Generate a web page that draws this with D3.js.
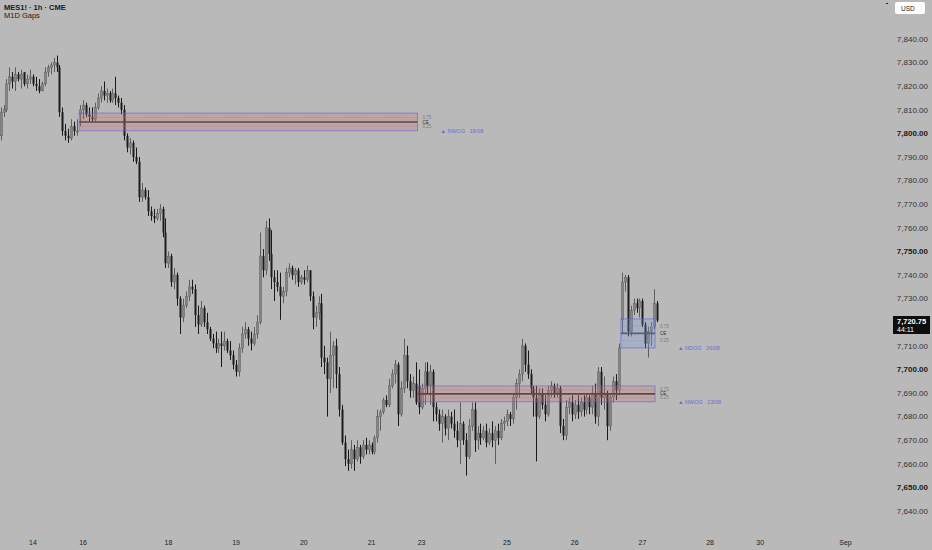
<!DOCTYPE html>
<html>
<head>
<meta charset="utf-8">
<script src="https://cdn.jsdelivr.net/npm/d3@7"></script>
<style>
  html, body { margin: 0; padding: 0; background: #b9b9b9; }
  svg { display: block; font-family: "Liberation Sans", Arial, sans-serif; }
</style>
</head>
<body>
<div class="container"></div>
<script>
// hourly candles
const opens = [7799,7809,7810,7821,7824,7822,7825,7823,7826,7821,7823,7824,7821,7820,7818,7821,7826,7828,7829,7830,
  7828,7809,7801,7799,7798,7803,7801,7808,7810,7812,7808,7807,7806,7811,7815,7818,7816,7817,7814,7817,
  7815,7813,7810,7799,7794,7796,7790,7788,7773,7776,7773,7767,7765,7764,7766,7768,7758,7745,7748,7737,
  7740,7730,7722,7727,7731,7735,7734,7723,7719,7726,7720,7717,7713,7711,7709,7711,7710,7712,7708,7706,
  7702,7699,7709,7715,7717,7713,7711,7715,7720,7748,7742,7760,7749,7739,7737,7735,7731,7733,7741,7743,
  7740,7742,7737,7739,7738,7742,7731,7722,7724,7728,7705,7703,7696,7706,7710,7698,7683,7669,7662,7660,
  7666,7662,7667,7663,7668,7666,7668,7665,7671,7680,7682,7687,7685,7693,7698,7702,7681,7692,7706,7695,
  7691,7694,7693,7684,7692,7699,7693,7699,7684,7681,7677,7680,7675,7680,7677,7674,7670,7677,7670,7663,
  7676,7683,7670,7673,7671,7674,7669,7673,7670,7674,7671,7677,7678,7681,7679,7688,7694,7698,7710,7702,
  7698,7692,7688,7680,7690,7685,7681,7691,7693,7690,7692,7676,7672,7684,7686,7681,7685,7682,7686,7683,
  7688,7684,7690,7680,7699,7688,7690,7676,7688,7695,7691,7721,7737,7739,7716,7725,7728,7726,7729,7719,
  7711,7716,7718,7728];
const highs = [7811,7812,7823,7828,7826,7828,7826,7827,7826,7825,7827,7825,7824,7823,7822,7828,7829,7830,7832,7833,
  7829,7811,7804,7802,7806,7805,7806,7812,7814,7813,7811,7811,7813,7817,7820,7822,7819,7818,7819,7824,
  7816,7815,7812,7800,7798,7797,7794,7790,7779,7777,7776,7769,7768,7768,7770,7769,7764,7750,7749,7743,
  7741,7731,7730,7733,7738,7738,7736,7727,7729,7727,7724,7718,7715,7716,7713,7716,7716,7713,7712,7708,
  7704,7711,7718,7720,7718,7716,7718,7723,7758,7751,7763,7764,7759,7742,7742,7741,7735,7743,7745,7744,
  7743,7743,7740,7742,7744,7742,7733,7727,7731,7732,7710,7705,7716,7712,7713,7701,7685,7672,7666,7670,
  7668,7670,7668,7670,7671,7670,7669,7672,7683,7683,7688,7689,7696,7700,7704,7703,7695,7713,7710,7698,
  7697,7703,7700,7694,7703,7703,7702,7700,7686,7683,7683,7681,7683,7682,7683,7678,7686,7678,7673,7679,
  7686,7686,7676,7677,7676,7677,7675,7678,7676,7677,7679,7680,7683,7682,7690,7696,7700,7713,7711,7708,
  7700,7693,7693,7692,7692,7689,7693,7695,7694,7694,7693,7679,7687,7688,7689,7687,7689,7688,7689,7690,
  7689,7693,7694,7701,7701,7697,7691,7690,7697,7698,7711,7741,7740,7740,7727,7730,7730,7730,7730,7720,
  7718,7720,7734,7729];
const lows = [7797,7807,7809,7818,7819,7818,7822,7819,7820,7819,7821,7820,7818,7817,7818,7820,7824,7825,7826,7826,
  7807,7799,7797,7796,7797,7799,7799,7803,7806,7807,7805,7805,7805,7810,7813,7814,7813,7813,7813,7812,
  7811,7808,7797,7792,7791,7788,7787,7771,7771,7772,7765,7763,7762,7763,7763,7756,7743,7743,7735,7734,
  7727,7715,7720,7726,7729,7732,7718,7715,7718,7718,7715,7712,7709,7707,7707,7701,7708,7707,7704,7700,
  7697,7697,7707,7713,7710,7708,7710,7713,7719,7739,7740,7746,7734,7729,7733,7721,7728,7731,7739,7738,
  7736,7735,7736,7736,7737,7729,7717,7718,7721,7701,7698,7680,7690,7692,7692,7680,7668,7659,7657,7658,
  7657,7661,7660,7662,7664,7664,7664,7664,7669,7674,7681,7684,7684,7692,7694,7676,7680,7690,7692,7688,
  7688,7685,7681,7683,7685,7690,7685,7678,7678,7674,7669,7672,7670,7675,7671,7667,7660,7668,7655,7662,
  7674,7665,7666,7668,7670,7667,7668,7667,7660,7668,7670,7674,7676,7676,7677,7683,7688,7695,7699,7696,
  7690,7680,7661,7679,7683,7678,7680,7688,7688,7688,7673,7670,7670,7681,7678,7679,7679,7680,7680,7681,
  7681,7681,7677,7676,7685,7683,7670,7674,7686,7687,7689,7715,7733,7714,7714,7723,7724,7722,7718,7709,
  7705,7710,7717,7720];
const closes = [7809,7810,7821,7824,7822,7825,7823,7825,7821,7823,7824,7821,7820,7818,7821,7826,7828,7829,7830,7828,
  7809,7801,7799,7798,7803,7801,7801,7810,7812,7808,7807,7806,7811,7815,7818,7816,7817,7814,7817,7815,
  7813,7810,7799,7794,7796,7790,7788,7773,7776,7773,7767,7765,7764,7766,7768,7758,7745,7748,7737,7740,
  7730,7722,7727,7731,7735,7734,7723,7719,7726,7720,7717,7713,7711,7709,7711,7710,7712,7708,7706,7702,
  7699,7709,7715,7717,7713,7711,7715,7720,7748,7742,7760,7749,7739,7737,7735,7731,7733,7741,7743,7740,
  7742,7737,7739,7738,7742,7731,7722,7724,7728,7705,7703,7696,7706,7710,7698,7683,7669,7662,7660,7666,
  7662,7667,7663,7668,7666,7668,7665,7671,7680,7682,7687,7685,7693,7698,7702,7681,7692,7706,7695,7691,
  7694,7686,7684,7692,7699,7693,7699,7684,7681,7677,7680,7675,7680,7677,7674,7670,7677,7670,7663,7676,
  7683,7670,7673,7671,7674,7669,7673,7670,7674,7671,7677,7678,7681,7679,7688,7694,7698,7710,7702,7698,
  7692,7688,7680,7690,7685,7681,7691,7693,7690,7692,7676,7672,7684,7686,7681,7685,7682,7686,7683,7688,
  7684,7690,7680,7699,7688,7690,7676,7688,7695,7691,7709,7737,7739,7716,7725,7728,7726,7729,7719,7711,
  7716,7718,7728,7720.75];

// time axis labels and the bar they sit on
const dayLabels = ["14","16","18","19","20","21","23","25","26","27","28","30","Sep"];
const dayBars = [11, 28, 57, 80, 103, 126, 143, 172, 195, 218, 241, 258, 287];

const priceTicks = d3.range(7640, 7841, 10);

// opening gaps
const gapNames = ["NWOG", "NWOG", "NDOG"];
const gapDates = ["16/08", "23/08", "26/08"];
const gapTop = [7808.6, 7693.0, 7721.4];
const gapBottom = [7801.1, 7686.3, 7709.1];
const gapStart = [26.7, 141.7, 210.7];
const gapEnd = [141.6, 222.3, 222.3];
const gapKind = ["red", "red", "blue"];

const lastPrice = 7720.75;
const countdown = "44:11";

const width = 932;
const height = 550;

const svg = d3.select("div.container")
    .append("svg")
    .attr("width", width)
    .attr("height", height);

svg.append("rect").attr("width", width).attr("height", height).attr("fill", "#b9b9b9");

const x = d3.scaleLinear().domain([0, 287]).range([0.6, 0.6 + 287 * 2.944]);
const y = d3.scaleLinear().domain([7640, 7840]).range([511, 39]);

const candles = closes.map((c, i) => ({i: i, o: opens[i], h: highs[i], l: lows[i], c: c}));

const plot = svg.append("g");

// wicks
plot.selectAll("line.wick")
    .data(candles)
    .enter()
    .append("line")
    .attr("class", "wick")
    .attr("x1", d => Math.round(x(d.i)) + 0.5)
    .attr("x2", d => Math.round(x(d.i)) + 0.5)
    .attr("y1", d => y(d.h))
    .attr("y2", d => y(d.l))
    .attr("stroke", d => d.c >= d.o ? "#5e5e5e" : "#1a1a1a")
    .attr("stroke-width", 1);

// bodies
plot.selectAll("rect.body")
    .data(candles)
    .enter()
    .append("rect")
    .attr("class", "body")
    .attr("x", d => Math.round(x(d.i)) - 0.5)
    .attr("width", 2)
    .attr("y", d => y(Math.max(d.o, d.c)))
    .attr("height", d => Math.max(1, Math.abs(y(d.o) - y(d.c))))
    .attr("fill", d => d.c >= d.o ? "#858585" : "#1c1c1c")
    .attr("stroke", d => d.c >= d.o ? "#5e5e5e" : "none")
    .attr("stroke-width", 0.5);

// gap boxes
const gaps = gapNames.map((n, k) => ({
    name: n, date: gapDates[k], top: gapTop[k], bottom: gapBottom[k],
    x1: x(gapStart[k]), x2: x(gapEnd[k]), kind: gapKind[k]
}));

const gg = svg.append("g").selectAll("g")
    .data(gaps)
    .enter()
    .append("g");

gg.append("rect")
    .attr("x", d => d.x1)
    .attr("y", d => y(d.top))
    .attr("width", d => d.x2 - d.x1)
    .attr("height", d => y(d.bottom) - y(d.top))
    .attr("fill", d => d.kind === "red" ? "rgba(205,110,110,0.28)" : "rgba(120,150,230,0.25)")
    .attr("stroke", "rgba(95,95,235,0.6)")
    .attr("stroke-width", 1);

[0.25, 0.75].forEach(f => {
    gg.append("line")
        .attr("x1", d => d.x1)
        .attr("x2", d => d.x2)
        .attr("y1", d => y(d.bottom + (d.top - d.bottom) * f))
        .attr("y2", d => y(d.bottom + (d.top - d.bottom) * f))
        .attr("stroke", d => d.kind === "red" ? "#a08585" : "#8a93aa")
        .attr("stroke-width", 0.8)
        .attr("stroke-dasharray", "1,1.5");
});

gg.append("line")
    .attr("x1", d => d.x1)
    .attr("x2", d => d.x2)
    .attr("y1", d => y((d.top + d.bottom) / 2))
    .attr("y2", d => y((d.top + d.bottom) / 2))
    .attr("stroke", d => d.kind === "red" ? "#5d4747" : "#5a5f6e")
    .attr("stroke-width", 1.6);

const levelText = [["0.75", 0.75, "#7a7a7a"], ["CE", 0.5, "#333"], ["0.25", 0.25, "#7a7a7a"]];
levelText.forEach(t => {
    gg.append("text")
        .attr("x", d => d.x2 + 5)
        .attr("y", d => y(d.bottom + (d.top - d.bottom) * t[1]))
        .attr("dy", "0.35em")
        .attr("font-size", 4.5)
        .attr("fill", t[2])
        .text(t[0]);
});

gg.append("text")
    .attr("x", d => d.x2 + 23)
    .attr("y", d => y(d.bottom))
    .attr("dy", "0.35em")
    .attr("font-size", 5.5)
    .attr("fill", "#6b6bd8")
    .attr("xml:space", "preserve")
    .text(d => "\u25B2 " + d.name + "   " + d.date);

// price axis (the tick under the last price tag is hidden, as in the original)
svg.append("g").selectAll("text")
    .data(priceTicks.filter(p => Math.abs(y(p) - y(lastPrice)) > 10))
    .enter()
    .append("text")
    .attr("x", 928)
    .attr("y", d => y(d))
    .attr("dy", "0.35em")
    .attr("text-anchor", "end")
    .attr("font-size", 8)
    .attr("font-weight", d => d % 50 === 0 ? "bold" : "normal")
    .attr("fill", d => d % 50 === 0 ? "#1a1a1a" : "#333")
    .text(d => d3.format(",.2f")(d));

// last price tag
svg.append("rect").attr("x", 893).attr("y", 316).attr("width", 37).attr("height", 18).attr("fill", "#0e0e0e");
svg.append("text").attr("x", 897).attr("y", 323.5)
    .attr("font-size", 7.5).attr("font-weight", "bold").attr("fill", "#fff")
    .text(d3.format(",.2f")(lastPrice));
svg.append("text").attr("x", 897).attr("y", 331.5)
    .attr("font-size", 7).attr("fill", "#fff").text(countdown);

// time axis
svg.append("g").selectAll("text")
    .data(dayLabels)
    .enter()
    .append("text")
    .attr("x", (d, k) => x(dayBars[k]))
    .attr("y", 543)
    .attr("dy", "0.35em")
    .attr("text-anchor", "middle")
    .attr("font-size", 7)
    .attr("fill", "#222")
    .text(d => d);

// header
svg.append("text").attr("x", 4).attr("y", 10).attr("font-size", 7.5).attr("font-weight", "bold")
    .attr("fill", "#1a1a1a").text("MES1! \u00B7 1h \u00B7 CME");
svg.append("text").attr("x", 4).attr("y", 18).attr("font-size", 7.5)
    .attr("fill", "#1a1a1a").text("M1D Gaps");

// currency button
svg.append("rect").attr("x", 895).attr("y", 2).attr("width", 30).attr("height", 12).attr("rx", 2).attr("fill", "#fff");
svg.append("text").attr("x", 901).attr("y", 8.5).attr("dy", "0.35em").attr("font-size", 6.5)
    .attr("fill", "#222").text("USD");
svg.append("rect").attr("x", 886).attr("y", 3).attr("width", 2).attr("height", 1).attr("fill", "#222");
</script>
</body>
</html>
